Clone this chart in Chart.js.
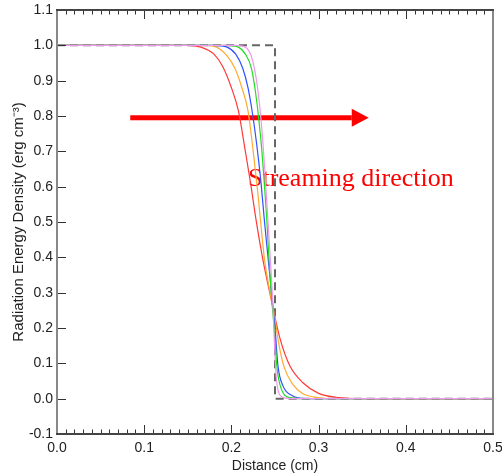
<!DOCTYPE html>
<html>
<head>
<meta charset="utf-8">
<script src="https://cdn.jsdelivr.net/npm/chart.js@4/dist/chart.umd.min.js"></script>
<style>
html,body{margin:0;padding:0;background:#fff;}
#wrap{width:502px;height:476px;position:relative;}
</style>
</head>
<body>
<div id="wrap"><canvas id="c" width="502" height="476"></canvas></div>
<script>
// ---- data ----
const xTickLabels = ["0.0","0.1","0.2","0.3","0.4","0.5"];
const yTickLabels = ["-0.1","0.0","0.1","0.2","0.3","0.4","0.5","0.6","0.7","0.8","0.9","1.0","1.1"];

const initialX = [0, 0.25, 0.25, 0.5];
const initialY = [1, 1, 0, 0];

const redX = [0,0.15,0.165,0.18,0.19,0.2,0.208,0.216,0.222,0.228,0.236,0.244,0.25,0.256,0.267,0.282,0.3,0.32,0.35,0.5];
const redY = [1,1,0.995,0.975,0.94,0.88,0.815,0.70,0.61,0.51,0.395,0.30,0.23,0.168,0.093,0.045,0.015,0.004,0,0];

const orangeX = [0,0.17,0.183,0.195,0.204,0.212,0.219,0.225,0.23,0.233,0.238,0.246,0.25,0.254,0.26,0.27,0.282,0.294,0.31,0.5];
const orangeY = [1,1,0.995,0.97,0.935,0.88,0.815,0.70,0.59,0.514,0.393,0.28,0.225,0.16,0.093,0.042,0.014,0.005,0,0];

const blueX = [0,0.18,0.195,0.205,0.213,0.219,0.224,0.229,0.234,0.238,0.242,0.246,0.25,0.2534,0.259,0.27,0.285,0.5];
const blueY = [1,1,0.995,0.975,0.935,0.88,0.81,0.72,0.61,0.50,0.40,0.30,0.20,0.093,0.037,0.008,0,0];

const greenX = [0,0.195,0.208,0.216,0.223,0.2275,0.231,0.235,0.238,0.2405,0.243,0.246,0.25,0.252,0.256,0.264,0.28,0.5];
const greenY = [1,1,0.995,0.975,0.935,0.87,0.80,0.70,0.60,0.51,0.40,0.29,0.17,0.093,0.037,0.005,0,0];

const violetX = [0,0.205,0.216,0.222,0.226,0.23,0.233,0.236,0.239,0.242,0.245,0.2475,0.2495,0.251,0.253,0.258,0.27,0.5];
const violetY = [1,1,0.995,0.975,0.94,0.88,0.815,0.73,0.62,0.50,0.38,0.27,0.15,0.075,0.03,0.005,0,0];

const annotationText = "Streaming direction";
const xTitle = "Distance (cm)";
const yTitle = "Radiation Energy Density (erg cm\u207B\u00B3)";

// ---- build ----
function pts(xs, ys){ return xs.map((x,i)=>({x:x, y:ys[i]})); }

const sansFont = "'Liberation Sans',Arial,sans-serif";

const framePlugin = {
  id: 'frame',
  beforeDatasetsDraw(chart){
    const {ctx, scales:{x, y}} = chart;
    ctx.save();
    const x0 = x.getPixelForValue(0.084), x1 = x.getPixelForValue(0.3575);
    const ya = y.getPixelForValue(0.795);
    ctx.fillStyle = '#ff0000';
    const head = 17, half = 9, th = 5;
    ctx.fillRect(x0, ya - th/2, (x1 - head) - x0, th);
    ctx.beginPath();
    ctx.moveTo(x1, ya);
    ctx.lineTo(x1 - head, ya - half);
    ctx.lineTo(x1 - head, ya + half);
    ctx.closePath();
    ctx.fill();
    ctx.font = "26px 'Liberation Serif','Times New Roman',serif";
    ctx.textBaseline = 'alphabetic';
    ctx.textAlign = 'left';
    ctx.fillText(annotationText, x.getPixelForValue(0.219), y.getPixelForValue(0.601));
    ctx.restore();
  },
  afterDatasetsDraw(chart){
    const {ctx, chartArea:a, scales:{x, y}} = chart;
    ctx.save();
    ctx.strokeStyle = '#333';
    ctx.lineWidth = 1;
    ctx.beginPath();
    for (let i = 0; i <= 50; i++){
      const v = i/100;
      const px = Math.round(x.getPixelForValue(v)) + 0.5;
      const len = (i % 10 === 0) ? 9 : 4.5;
      ctx.moveTo(px, a.bottom); ctx.lineTo(px, a.bottom - len);
      ctx.moveTo(px, a.top); ctx.lineTo(px, a.top + len);
    }
    for (let i = 0; i <= 10; i++){
      const py = Math.round(y.getPixelForValue(i/10)) + 0.5;
      ctx.moveTo(a.left, py); ctx.lineTo(a.left + 9, py);
    }
    ctx.stroke();
    ctx.lineWidth = 2;
    ctx.strokeStyle = '#888';
    ctx.beginPath();
    ctx.moveTo(a.left, a.top); ctx.lineTo(a.left, a.bottom);
    ctx.moveTo(a.right, a.top); ctx.lineTo(a.right, a.bottom);
    ctx.stroke();
    ctx.strokeStyle = '#444';
    ctx.beginPath();
    ctx.moveTo(a.left-1, a.top); ctx.lineTo(a.right+1, a.top);
    ctx.moveTo(a.left-1, a.bottom); ctx.lineTo(a.right+1, a.bottom);
    ctx.stroke();
    ctx.restore();
  }
};

const lineDs = (label, data, color, order) => ({
  label, data, borderColor: color, borderWidth: 1.2, pointRadius: 0,
  cubicInterpolationMode: 'monotone', fill: false, order
});

function noPad(s){ s.paddingLeft = 0; s.paddingRight = 0; s.paddingTop = 0; s.paddingBottom = 0; }

new Chart(document.getElementById('c'), {
  type: 'line',
  data: {
    datasets: [
      Object.assign(lineDs('initial', pts(initialX, initialY), '#666', 5), {borderDash:[8,5], borderWidth: 2, cubicInterpolationMode: 'default', tension: 0}),
      lineDs('red', pts(redX, redY), '#ff3838', 4),
      lineDs('orange', pts(orangeX, orangeY), '#ffaa30', 3),
      lineDs('blue', pts(blueX, blueY), '#3050ff', 2),
      lineDs('green', pts(greenX, greenY), '#20dd20', 1),
      lineDs('violet', pts(violetX, violetY), '#ee99ee', 0)
    ]
  },
  options: {
    responsive: false,
    animation: false,
    events: [],
    layout: { padding: { top: 10, right: 9, left: 0, bottom: 0 } },
    plugins: { legend: { display: false }, tooltip: { enabled: false } },
    scales: {
      x: {
        type: 'linear', min: 0, max: 0.5,
        afterFit(s){ s.height = 42; noPad(s); },
        afterBuildTicks(s){ s.ticks = xTickLabels.map(t => ({value: parseFloat(t)})); },
        ticks: { padding: 6, color: '#222', font: { family: sansFont, size: 14 },
                 callback: (v, i) => xTickLabels[i], maxRotation: 0, autoSkip: false },
        grid: { display: false, drawTicks: false },
        border: { display: false },
        title: { display: true, text: xTitle, color: '#222', font: { family: sansFont, size: 14 }, padding: { top: 0, bottom: 1 } }
      },
      y: {
        type: 'linear', min: -0.1, max: 1.1,
        afterFit(s){ s.width = 57; noPad(s); },
        afterBuildTicks(s){ s.ticks = yTickLabels.map(t => ({value: parseFloat(t)})); },
        ticks: { padding: 4, color: '#222', font: { family: sansFont, size: 14 },
                 callback: (v, i) => yTickLabels[i], autoSkip: false },
        grid: { display: false, drawTicks: false },
        border: { display: false },
        title: { display: true, text: yTitle, color: '#222', font: { family: sansFont, size: 15 }, padding: { top: 10, bottom: 0 } }
      }
    }
  },
  plugins: [framePlugin]
});
</script>
</body>
</html>
